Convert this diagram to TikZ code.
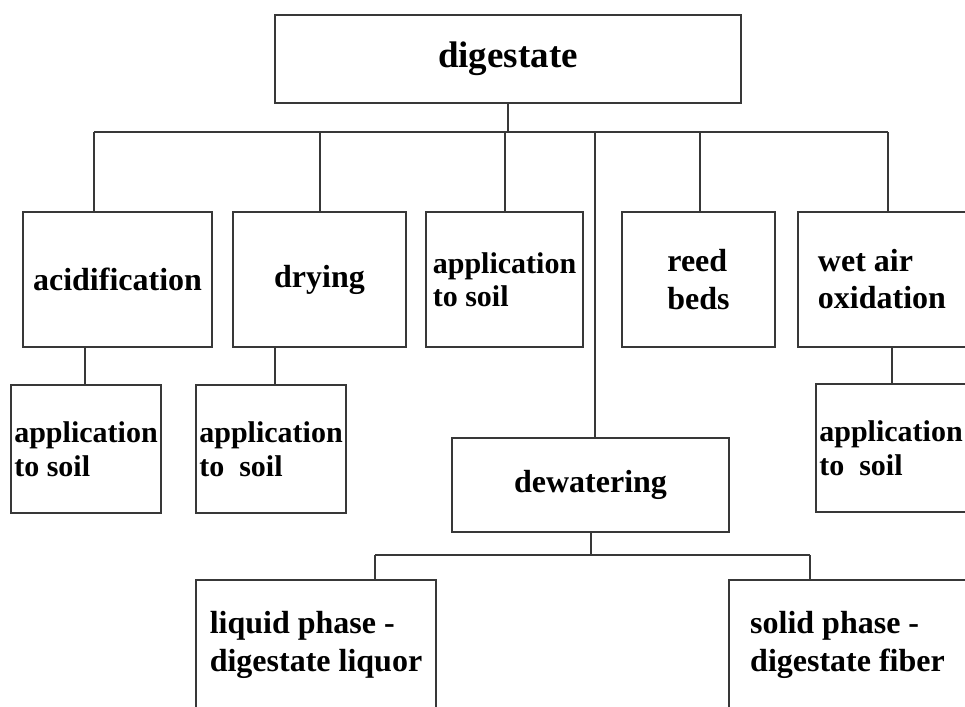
\documentclass[tikz,border=0pt]{standalone}
\usepackage{fontspec}
\setmainfont{Liberation Serif}
\definecolor{linegray}{rgb}{0.22, 0.22, 0.22}
\tikzset{
	box/.style={draw=linegray, line width=2.4pt, inner sep=0pt, text=black, font=\bfseries\fontsize{32}{36}\selectfont},
	toprow/.style={box, minimum height=135},
	lowrow/.style={box, minimum width=150, minimum height=128, align=left, font=\bfseries\fontsize{30}{34}\selectfont},
	link/.style={draw=linegray, line width=2pt},
}

\begin{document}
\begin{tikzpicture}[x=1pt, y=-1pt]
	\useasboundingbox (0,0) rectangle (965,706);
	\clip (0,0) rectangle (965,706);

	\def\busy{132}
	\def\subbusy{555}

	\node[box, minimum width=466, minimum height=88, font=\bfseries\fontsize{37}{40}\selectfont] (dig) at (508,59) {digestate};

	\node[toprow, minimum width=189] (acid) at (117.5,279.5) {acidification};
	\node[toprow, minimum width=173] (dry) at (319.5,279.5) {drying};
	\node[toprow, minimum width=157, align=left, font=\bfseries\fontsize{30}{33}\selectfont] (app) at (504.5,279.5) {application\\to soil};
	\node[toprow, minimum width=153, align=left, font=\bfseries\fontsize{32}{38}\selectfont] (reed) at (698.5,279.5) {reed\\beds};
	\node[toprow, minimum width=168, align=left, font=\bfseries\fontsize{32}{37}\selectfont] (wet) at (882,279.5) {wet air\\oxidation};

	\node[lowrow] (a1) at (86,449) {application\\to soil};
	\node[lowrow] (a2) at (271,449) {application\\to\ \ soil};
	\node[lowrow] (a3) at (891,448) {application\\to\ \ soil};

	\node[box, minimum width=277, minimum height=94] (dew) at (590.5,485) {dewatering};

	\node[box, minimum width=240, minimum height=130, align=left, font=\bfseries\fontsize{32}{38}\selectfont] (liq) at (316,645) {liquid phase -\\digestate liquor};
	\node[box, minimum width=237, minimum height=130, align=left, font=\bfseries\fontsize{32}{38}\selectfont] (sol) at (847.5,645) {solid phase -\\digestate fiber};

	% main branches
	\draw[link] (dig.south) -- (dig.south |- 0,\busy);
	\coordinate (busL) at (94,\busy);
	\coordinate (busR) at (888,\busy);
	\draw[link] (busL) -- (busR);
	\foreach \x/\n in {94/acid, 320/dry, 505/app, 595/dew, 700/reed, 888/wet}
		\draw[link] (\x,\busy) -- (\x,0 |- \n.north);

	\foreach \x/\a/\b in {85/acid/a1, 275/dry/a2, 892/wet/a3}
		\draw[link] (\x,0 |- \a.south) -- (\x,0 |- \b.north);

	% dewatering split
	\coordinate (subL) at (375,\subbusy);
	\coordinate (subR) at (810,\subbusy);
	\draw[link] (591,0 |- dew.south) -- (591,\subbusy);
	\draw[link] (subL) -- (subR);
	\draw[link] (subL) -- (subL |- liq.north);
	\draw[link] (subR) -- (subR |- sol.north);
\end{tikzpicture}
\end{document}
